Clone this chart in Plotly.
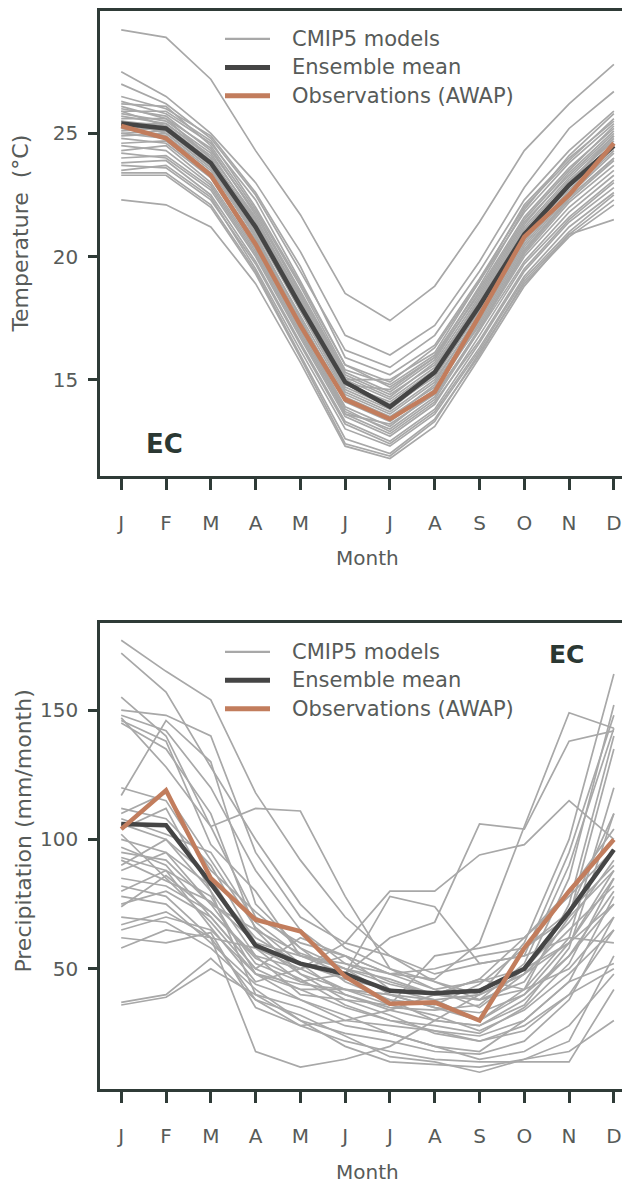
import plotly.graph_objects as go

# Reference canvas is 630x1183; the page body adds an 8px margin, so the
# figure is made 8px smaller and every pixel position is shifted by 8.
OFF = 8
W, H = 630 - OFF, 1183 - OFF

months = ["J", "F", "M", "A", "M", "J", "J", "A", "S", "O", "N", "D"]
month_idx = list(range(1, 13))

# ---------------- Temperature (deg C) ----------------
temp_ensemble = [25.4, 25.2, 23.8, 21.2, 18.0, 14.9, 13.9, 15.3, 18.0, 20.9, 22.9, 24.5]
temp_obs = [25.3, 24.8, 23.3, 20.5, 17.2, 14.2, 13.4, 14.5, 17.6, 20.8, 22.5, 24.6]
temp_models = [
    [29.2, 28.9, 27.2, 24.3, 21.7, 18.5, 17.4, 18.8, 21.4, 24.3, 26.2, 27.8],
    [27.5, 26.5, 25.0, 23.0, 20.2, 16.8, 16.0, 17.2, 19.8, 22.8, 25.2, 26.7],
    [27.0, 26.2, 24.8, 22.5, 19.4, 16.2, 15.5, 16.8, 19.4, 22.3, 24.3, 25.9],
    [26.5, 26.0, 24.9, 22.6, 19.6, 15.9, 15.2, 16.4, 19.1, 22.0, 23.9, 25.6],
    [26.3, 25.8, 24.6, 22.3, 19.0, 15.6, 14.9, 16.3, 19.0, 21.8, 23.8, 25.4],
    [26.2, 26.1, 24.5, 21.9, 18.8, 15.4, 14.8, 16.0, 18.7, 21.6, 23.6, 25.2],
    [26.0, 25.7, 24.3, 21.8, 18.6, 15.3, 14.5, 15.8, 18.6, 21.5, 23.5, 25.3],
    [25.9, 25.9, 24.7, 22.0, 18.9, 15.6, 14.7, 15.9, 18.5, 21.4, 23.3, 25.0],
    [25.8, 25.5, 24.2, 21.5, 18.4, 15.1, 14.3, 15.7, 18.4, 21.3, 23.4, 25.1],
    [25.7, 25.4, 24.0, 21.4, 18.2, 15.0, 14.2, 15.5, 18.3, 21.2, 23.2, 24.9],
    [25.6, 25.6, 24.4, 21.7, 18.5, 15.2, 14.4, 15.6, 18.2, 21.0, 23.0, 24.8],
    [25.5, 25.3, 23.9, 21.3, 18.1, 14.8, 14.1, 15.4, 18.2, 21.1, 23.1, 24.7],
    [25.5, 25.0, 23.6, 21.0, 17.8, 14.6, 13.8, 15.2, 18.0, 20.9, 23.0, 24.9],
    [25.4, 25.4, 24.1, 21.6, 18.3, 14.9, 14.0, 15.3, 17.9, 20.8, 22.8, 24.6],
    [25.3, 25.1, 23.7, 21.1, 17.9, 14.7, 13.9, 15.1, 17.8, 20.7, 22.9, 24.5],
    [25.2, 24.9, 23.5, 20.8, 17.6, 14.4, 13.6, 14.9, 17.7, 20.6, 22.7, 24.4],
    [25.1, 25.2, 23.8, 21.2, 17.8, 14.5, 13.7, 15.0, 17.6, 20.5, 22.6, 24.3],
    [25.0, 24.8, 23.4, 20.6, 17.3, 14.2, 13.4, 14.8, 17.5, 20.4, 22.5, 24.2],
    [24.9, 25.0, 23.6, 20.9, 17.5, 14.1, 13.3, 14.6, 17.4, 20.3, 22.4, 24.0],
    [24.8, 24.6, 23.2, 20.4, 17.1, 13.9, 13.1, 14.5, 17.3, 20.2, 22.3, 23.9],
    [24.6, 24.7, 23.3, 20.7, 17.4, 14.3, 13.5, 14.7, 17.2, 20.1, 22.2, 23.7],
    [24.5, 24.3, 22.9, 20.2, 16.9, 13.7, 13.0, 14.3, 17.1, 20.0, 22.0, 23.5],
    [24.3, 24.5, 23.0, 20.3, 17.0, 13.8, 12.9, 14.2, 17.0, 19.8, 21.8, 23.3],
    [24.2, 24.0, 22.7, 20.0, 16.7, 13.5, 12.7, 14.0, 16.8, 19.7, 21.6, 23.1],
    [24.0, 24.1, 22.8, 20.1, 16.8, 13.6, 12.8, 14.1, 16.6, 19.5, 21.5, 23.0],
    [23.8, 23.9, 22.5, 19.8, 16.5, 13.3, 12.5, 13.8, 16.5, 19.4, 21.4, 22.8],
    [23.7, 23.6, 22.3, 19.7, 16.4, 13.2, 12.4, 13.7, 16.3, 19.2, 21.2, 22.6],
    [23.5, 23.7, 22.4, 19.5, 16.2, 13.0, 12.3, 13.6, 16.2, 19.1, 21.0, 22.5],
    [23.4, 23.4, 22.1, 19.4, 16.0, 12.6, 12.0, 13.4, 16.0, 19.0, 20.9, 22.3],
    [23.3, 23.3, 22.0, 19.3, 15.9, 12.4, 11.9, 13.3, 16.1, 18.9, 20.8, 22.1],
    [22.3, 22.1, 21.2, 18.9, 15.7, 12.3, 11.8, 13.1, 15.9, 18.8, 20.9, 21.5],
    [26.1, 25.6, 24.0, 21.3, 18.0, 14.8, 14.6, 15.9, 18.8, 21.9, 24.1, 25.8],
    [25.9, 25.3, 23.9, 21.5, 18.3, 15.0, 15.0, 16.1, 19.0, 22.1, 24.0, 25.5],
    [25.0, 25.1, 23.7, 20.8, 17.3, 13.6, 13.2, 14.4, 17.0, 20.2, 22.4, 24.0],
]

# ---------------- Precipitation (mm/month) ----------------
prec_ensemble = [106, 105.5, 83, 59, 52, 48, 41.5, 40.5, 41.5, 50, 72, 96]
prec_obs = [104, 119, 85, 69, 64.5, 47, 36.5, 37, 30, 58, 80, 100]
prec_models = [
    [177, 165, 154, 118, 92, 70, 55, 45, 38, 42, 75, 140],
    [172, 157, 128, 100, 75, 58, 50, 42, 35, 48, 85, 152],
    [155, 140, 105, 112, 111, 78, 50, 45, 40, 60, 100, 164],
    [150, 148, 140, 95, 70, 60, 55, 48, 52, 55, 95, 148],
    [148, 142, 120, 88, 65, 52, 45, 40, 38, 45, 70, 135],
    [147, 128, 105, 70, 60, 55, 48, 42, 45, 50, 72, 110],
    [146, 138, 98, 80, 55, 50, 40, 35, 30, 40, 60, 88],
    [145, 135, 110, 65, 48, 42, 38, 30, 28, 38, 55, 80],
    [117, 146, 130, 75, 58, 50, 46, 40, 38, 52, 90, 143],
    [112, 108, 90, 60, 55, 52, 48, 46, 60, 105, 149, 143],
    [106, 100, 85, 58, 45, 48, 62, 68, 106, 104, 138, 142],
    [104, 112, 80, 55, 50, 60, 80, 80, 94, 98, 115, 100],
    [100, 95, 75, 52, 45, 40, 35, 34, 36, 50, 68, 92],
    [97, 90, 70, 50, 42, 35, 30, 28, 25, 35, 52, 85],
    [93, 88, 78, 48, 38, 32, 25, 20, 18, 30, 45, 78],
    [90, 100, 80, 40, 30, 25, 22, 18, 17, 22, 38, 70],
    [85, 82, 72, 55, 40, 38, 36, 55, 58, 62, 78, 96],
    [80, 88, 66, 45, 50, 55, 42, 38, 40, 48, 65, 82],
    [78, 75, 60, 44, 38, 30, 28, 26, 22, 28, 40, 65],
    [75, 80, 70, 50, 62, 55, 48, 50, 55, 58, 70, 88],
    [70, 68, 58, 42, 30, 20, 14, 13, 12, 15, 22, 55],
    [67, 72, 62, 38, 28, 22, 18, 15, 14, 14, 14, 42],
    [65, 70, 65, 48, 44, 42, 40, 35, 33, 40, 55, 75],
    [58, 65, 62, 18, 12, 15, 20, 30, 40, 48, 60, 85],
    [37, 40, 54, 38, 32, 24, 16, 14, 10, 15, 18, 30],
    [36, 39, 50, 40, 35, 28, 25, 20, 15, 18, 28, 48],
    [108, 102, 95, 68, 55, 48, 78, 74, 52, 55, 62, 120],
    [88, 95, 82, 62, 52, 46, 42, 40, 46, 62, 80, 104],
    [120, 115, 88, 72, 58, 45, 38, 36, 44, 58, 72, 90],
    [95, 92, 75, 65, 56, 50, 44, 40, 42, 50, 60, 75],
    [102, 85, 68, 48, 42, 42, 40, 38, 30, 42, 62, 60],
    [82, 78, 62, 58, 50, 42, 36, 32, 26, 34, 48, 65],
    [110, 118, 92, 66, 52, 40, 34, 30, 28, 36, 58, 110],
    [74, 86, 72, 54, 46, 36, 30, 26, 24, 30, 45, 52],
    [92, 84, 76, 60, 48, 38, 32, 25, 22, 26, 40, 50],
    [62, 60, 64, 35, 28, 30, 34, 40, 46, 42, 50, 70],
]

legend_labels = ["CMIP5 models", "Ensemble mean", "Observations (AWAP)"]

# ---------------- styling ----------------
FONT = "DejaVu Sans"
MODEL_C = "#a8a8a8"
ENS_C = "#454545"
OBS_C = "#c27d5d"
FRAME_C = "#2f3b37"
TEXT_C = "#575b59"
EC_C = "#2b3833"


def fx(p):
    return (p - OFF) / W


def fy(p):
    return 1 - (p - OFF) / H


fig = go.Figure()


def add_panel(models, ens, obs, xa, ya):
    for m in models:
        fig.add_trace(go.Scatter(x=month_idx, y=m, mode="lines", xaxis=xa, yaxis=ya,
                                 line=dict(color=MODEL_C, width=1.7), showlegend=False,
                                 hoverinfo="skip"))
    fig.add_trace(go.Scatter(x=month_idx, y=ens, mode="lines", xaxis=xa, yaxis=ya,
                             line=dict(color=ENS_C, width=4.5), showlegend=False))
    fig.add_trace(go.Scatter(x=month_idx, y=obs, mode="lines", xaxis=xa, yaxis=ya,
                             line=dict(color=OBS_C, width=4.5), showlegend=False))


add_panel(temp_models, temp_ensemble, temp_obs, "x", "y")
add_panel(prec_models, prec_ensemble, prec_obs, "x2", "y2")

xrange = [0.526, 12.36]

common_x = dict(
    range=xrange, tickmode="array", tickvals=month_idx, ticktext=months,
    ticks="outside", ticklen=11, tickwidth=2.5, tickcolor=FRAME_C,
    showline=True, linecolor=FRAME_C, linewidth=2.5, mirror=True,
    showgrid=False, zeroline=False, ticklabelstandoff=16,
    tickfont=dict(family=FONT, size=20, color=TEXT_C),
)
common_y = dict(
    ticks="outside", ticklen=9, tickwidth=2.5, tickcolor=FRAME_C,
    showline=True, linecolor=FRAME_C, linewidth=2.5, mirror=False,
    showgrid=False, zeroline=False, ticklabelstandoff=6,
    tickfont=dict(family=FONT, size=20, color=TEXT_C),
)

fig.update_layout(
    width=W, height=H,
    margin=dict(l=0, r=0, t=0, b=0),
    paper_bgcolor="white", plot_bgcolor="white",
    showlegend=False,
    xaxis=dict(domain=[fx(100), 1.0], anchor="y", **common_x),
    yaxis=dict(domain=[fy(475), fy(9)], anchor="x", range=[11.08, 29.97],
               tickvals=[15, 20, 25], **common_y),
    xaxis2=dict(domain=[fx(100), 1.0], anchor="y2", **common_x),
    yaxis2=dict(domain=[fy(1089), fy(622)], anchor="x2", range=[3.45, 183.7],
                tickvals=[50, 100, 150], **common_y),
)

annotations = []
shapes = []


def text(x, y, s, size=20, color=TEXT_C, xanchor="center", angle=0, bold=False):
    annotations.append(dict(
        x=fx(x), y=fy(y), xref="paper", yref="paper", text=("<b>%s</b>" % s) if bold else s,
        showarrow=False, xanchor=xanchor, yanchor="middle", textangle=angle,
        font=dict(family=FONT, size=size, color=color),
    ))


# axis titles
text(367, 557, "Month", size=20)
text(367, 1172, "Month", size=20)
text(21, 232, "Temperature \u00a0(°C)", size=22, angle=-90)
text(24, 831, "Precipitation (mm/month)", size=22, angle=-90)

# panel labels
text(164, 443, "EC", size=26, color=EC_C, bold=True)
text(566, 654, "EC", size=25, color=EC_C, bold=True)

# manual legends
legend_styles = [(MODEL_C, 2.2), (ENS_C, 5), (OBS_C, 5)]
for base_y in (37, 651):
    for i, (lab, (c, w)) in enumerate(zip(legend_labels, legend_styles)):
        yy = base_y + i * 28.5
        shapes.append(dict(type="line", xref="paper", yref="paper",
                           x0=fx(225), x1=fx(270), y0=fy(yy), y1=fy(yy),
                           line=dict(color=c, width=w)))
        text(290, yy, lab, size=21, xanchor="left")

fig.update_layout(annotations=annotations, shapes=shapes)

fig.write_html("out.html")
